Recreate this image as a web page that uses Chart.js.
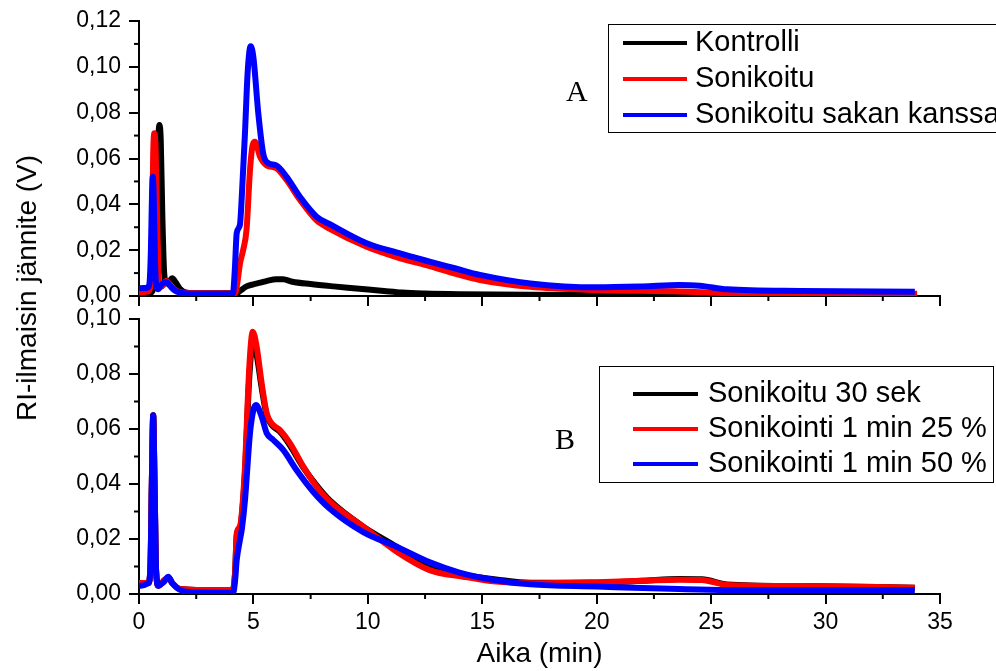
<!DOCTYPE html>
<html>
<head>
<meta charset="utf-8">
<script src="https://cdn.jsdelivr.net/npm/chart.js@4/dist/chart.umd.min.js"></script>
<style>
  body { margin: 0; background: #fff; }
  #wrap { position: relative; width: 996px; height: 671px; overflow: hidden; }
  canvas { position: absolute; left: 0; }
  #top { top: 0; }
  #bottom { top: 308px; }
  #ytitle {
    position: absolute; left: 27px; top: 288px;
    transform: translate(-50%, -50%) rotate(-90deg);
    font: 28px "Liberation Sans", Arial, sans-serif; white-space: nowrap;
  }
</style>
</head>
<body>
<div id="wrap">
  <canvas id="top" width="996" height="308"></canvas>
  <canvas id="bottom" width="996" height="363"></canvas>
  <div id="ytitle">RI-ilmaisin jännite (V)</div>
</div>
<script>
// panel A
const kontrolliX = [0, 0.5, 0.62, 0.7, 0.76, 0.82, 0.89, 0.95, 1.02, 1.1, 1.2, 1.3, 1.45, 1.6, 1.8, 2.1, 2.6, 3.5, 4.25, 4.45, 4.7, 5.0, 5.3, 5.6, 6.0, 6.3, 6.7, 7.5, 8.5, 9.5, 10.7, 11.5, 12.5, 14, 17, 22, 28, 33.9];
const kontrolliY = [0.0013, 0.0014, 0.003, 0.01, 0.035, 0.062, 0.0746, 0.068, 0.035, 0.01, 0.0055, 0.006, 0.0077, 0.006, 0.003, 0.0014, 0.0012, 0.0012, 0.0012, 0.0025, 0.0042, 0.0051, 0.0058, 0.0066, 0.0073, 0.0073, 0.0062, 0.0052, 0.0042, 0.0033, 0.0022, 0.0015, 0.0011, 0.0008, 0.0005, 0.0004, 0.0004, 0.0004];

const sonikoituX = [0, 0.4, 0.5, 0.56, 0.62, 0.67, 0.72, 0.78, 0.84, 0.9, 0.98, 1.08, 1.2, 1.35, 1.6, 2.0, 3.0, 4.2, 4.3, 4.41, 4.55, 4.7, 4.85, 4.97, 5.07, 5.29, 5.58, 6.0, 6.45, 7.03, 7.76, 8.4, 9.95, 11.25, 12.7, 13.8, 14.9, 17.1, 20, 23.6, 25.7, 28.9, 34.0];
const sonikoituY = [0.0015, 0.002, 0.004, 0.02, 0.062, 0.071, 0.066, 0.04, 0.012, 0.005, 0.004, 0.005, 0.0067, 0.005, 0.0025, 0.0014, 0.0012, 0.0012, 0.006, 0.014, 0.020, 0.029, 0.055, 0.066, 0.0673, 0.0608, 0.057, 0.0558, 0.0506, 0.042, 0.033, 0.029, 0.0215, 0.017, 0.013, 0.0098, 0.007, 0.004, 0.0026, 0.002, 0.0013, 0.001, 0.001];

const sakanX = [0, 0.33, 0.45, 0.52, 0.57, 0.6, 0.64, 0.7, 0.76, 0.85, 0.95, 1.1, 1.21, 1.35, 1.55, 1.8, 2.5, 4.1, 4.19, 4.27, 4.41, 4.5, 4.63, 4.75, 4.88, 5.0, 5.21, 5.43, 5.65, 6.0, 6.45, 7.03, 7.76, 8.4, 9.95, 11.25, 12.7, 13.8, 14.9, 17.1, 20, 22, 23.6, 24.5, 25.7, 28.9, 33.9];
const sakanY = [0.0034, 0.0035, 0.005, 0.02, 0.045, 0.052, 0.045, 0.015, 0.004, 0.003, 0.0045, 0.0058, 0.006, 0.0045, 0.0025, 0.0015, 0.001, 0.001, 0.012, 0.0275, 0.031, 0.045, 0.071, 0.098, 0.109, 0.104, 0.08, 0.062, 0.058, 0.057, 0.052, 0.0433, 0.0346, 0.031, 0.023, 0.019, 0.015, 0.0121, 0.0092, 0.0055, 0.0038, 0.0042, 0.0048, 0.0045, 0.0029, 0.0022, 0.0019];

// panel B
const bTimeX = [0, 0.41, 0.5, 0.56, 0.62, 0.68, 0.75, 0.85, 0.95, 1.1, 1.28, 1.45, 1.8, 2.5, 4.1, 4.2, 4.27, 4.41, 4.5, 4.63, 4.82, 4.97, 5.14, 5.36, 5.58, 5.8, 6.16, 6.6, 7.18, 7.76, 8.34, 9.8, 11.26, 12.7, 14.17, 15.6, 17.1, 20, 22, 23.6, 24.6, 25.7, 28.9, 33.9];
const sek30Y = [0.004, 0.004, 0.01, 0.04, 0.065, 0.04, 0.008, 0.003, 0.0035, 0.005, 0.006, 0.004, 0.0018, 0.0015, 0.0015, 0.008, 0.021, 0.024, 0.029, 0.044, 0.079, 0.091, 0.087, 0.075, 0.065, 0.0615, 0.059, 0.054, 0.046, 0.0395, 0.034, 0.0245, 0.0172, 0.0094, 0.0069, 0.0053, 0.0041, 0.0041, 0.0048, 0.0055, 0.0054, 0.0035, 0.0029, 0.0023];
const min25Y = [0.004, 0.004, 0.01, 0.04, 0.065, 0.04, 0.008, 0.003, 0.0035, 0.005, 0.006, 0.004, 0.0018, 0.0015, 0.0015, 0.008, 0.022, 0.0245, 0.03, 0.046, 0.0826, 0.0954, 0.09, 0.0766, 0.0657, 0.062, 0.0596, 0.0548, 0.0463, 0.039, 0.0336, 0.0245, 0.0154, 0.0087, 0.0063, 0.0045, 0.0039, 0.0043, 0.0048, 0.0052, 0.0051, 0.0033, 0.0029, 0.0023];
const min50X = [0, 0.41, 0.5, 0.56, 0.62, 0.68, 0.75, 0.85, 0.95, 1.1, 1.28, 1.45, 1.79, 2.5, 4.12, 4.2, 4.27, 4.41, 4.5, 4.63, 4.85, 5.0, 5.11, 5.36, 5.58, 5.87, 6.3, 6.89, 7.61, 8.34, 9.8, 11.26, 12.71, 14.0, 15.6, 17.1, 20, 23.6, 25.7, 28.9, 33.9];
const min50Y = [0.0029, 0.0039, 0.01, 0.04, 0.065, 0.04, 0.008, 0.003, 0.0035, 0.0045, 0.0063, 0.004, 0.0015, 0.0006, 0.0005, 0.005, 0.0124, 0.0196, 0.024, 0.034, 0.0585, 0.067, 0.0687, 0.0645, 0.0585, 0.056, 0.0524, 0.045, 0.0372, 0.031, 0.0225, 0.0172, 0.0115, 0.0078, 0.005, 0.0035, 0.0027, 0.0018, 0.0015, 0.0015, 0.0015];

const xTicks = [0, 5, 10, 15, 20, 25, 30, 35];
const namesA = ['Kontrolli', 'Sonikoitu', 'Sonikoitu sakan kanssa'];
const namesB = ['Sonikoitu 30 sek', 'Sonikointi 1 min 25 %', 'Sonikointi 1 min 50 %'];
const colors = ['#000000', '#ff0000', '#0000ff'];

const FONT = '"Liberation Sans", Arial, sans-serif';

function pts(xs, ys) {
    return xs.map((x, i) => ({x: x, y: ys[i]}));
}

function makeSet(label, xs, ys, i) {
    return {
        label: label,
        data: pts(xs, ys),
        borderColor: colors[i],
        borderWidth: 6,
        pointRadius: 0,
        cubicInterpolationMode: 'monotone',
        order: 3 - i
    };
}

// minor ticks halfway between the scale's own ticks
const minorTicks = {
    id: 'minorTicks',
    afterDraw(chart) {
        const ctx = chart.ctx;
        ctx.save();
        ctx.strokeStyle = '#000';
        ctx.lineWidth = 2;
        ['x', 'y'].forEach(id => {
            const s = chart.scales[id];
            const t = s.ticks;
            for (let i = 0; i < t.length - 1; i++) {
                const p = s.getPixelForValue((t[i].value + t[i + 1].value) / 2);
                ctx.beginPath();
                if (s.isHorizontal()) {
                    ctx.moveTo(p, s.top);
                    ctx.lineTo(p, s.top + 5);
                } else {
                    ctx.moveTo(s.right, p);
                    ctx.lineTo(s.right - 5, p);
                }
                ctx.stroke();
            }
        });
        ctx.restore();
    }
};

// boxed legend + panel letter
const boxLegend = {
    id: 'boxLegend',
    afterDraw(chart, args, o) {
        const ctx = chart.ctx;
        ctx.save();
        ctx.strokeStyle = '#000';
        ctx.lineWidth = 1;
        ctx.strokeRect(o.x + 0.5, o.y + 0.5, o.w, o.h);
        ctx.font = '29px ' + FONT;
        ctx.textBaseline = 'middle';
        chart.data.datasets.forEach((ds, i) => {
            const y = o.y + o.first + i * o.gap;
            ctx.strokeStyle = ds.borderColor;
            ctx.lineWidth = 4;
            ctx.beginPath();
            ctx.moveTo(o.lineX0, y);
            ctx.lineTo(o.lineX1, y);
            ctx.stroke();
            ctx.fillStyle = '#000';
            ctx.fillText(ds.label, o.textX, y);
        });
        ctx.font = '30px "Liberation Serif", "Times New Roman", serif';
        ctx.textBaseline = 'alphabetic';
        ctx.fillText(o.letter, o.letterX, o.letterY);
        ctx.restore();
    }
};

function yLabel(v) {
    return v.toFixed(2).replace('.', ',');
}

function panel(canvas, sets, opts) {
    return new Chart(canvas, {
        type: 'line',
        data: {datasets: sets},
        options: {
            responsive: false,
            animation: false,
            events: [],
            layout: {padding: {left: 0, right: 56, top: opts.padTop, bottom: 0}},
            plugins: {
                legend: {display: false},
                tooltip: {enabled: false},
                boxLegend: opts.legend
            },
            scales: {
                x: {
                    type: 'linear',
                    min: 0,
                    max: 35,
                    afterBuildTicks: s => { s.ticks = xTicks.map(v => ({value: v})); },
                    border: {display: true, color: '#000', width: 2},
                    grid: {drawOnChartArea: false, drawTicks: true, tickLength: 10, color: '#000', lineWidth: 2},
                    ticks: {
                        display: opts.xLabels,
                        color: '#000',
                        padding: 5,
                        maxRotation: 0,
                        font: {family: FONT, size: 23}
                    },
                    title: {
                        display: opts.xLabels,
                        text: 'Aika (min)',
                        color: '#000',
                        padding: {top: 0, bottom: 0},
                        font: {family: FONT, size: 28}
                    },
                    afterFit: s => { s.height = opts.xHeight; }
                },
                y: {
                    min: 0,
                    max: opts.yMax,
                    border: {display: true, color: '#000', width: 2},
                    grid: {drawOnChartArea: false, drawTicks: true, tickLength: 10, color: '#000', lineWidth: 2},
                    ticks: {
                        stepSize: 0.02,
                        color: '#000',
                        padding: 8,
                        callback: yLabel,
                        font: {family: FONT, size: 23}
                    },
                    afterFit: s => {
                        s.width = 139;
                        s.paddingTop = 0;
                        s.paddingBottom = 0;
                    }
                }
            }
        },
        plugins: [minorTicks, boxLegend]
    });
}

panel(document.getElementById('top'), [
    makeSet(namesA[0], kontrolliX, kontrolliY, 0),
    makeSet(namesA[1], sonikoituX, sonikoituY, 1),
    makeSet(namesA[2], sakanX, sakanY, 2)
], {
    padTop: 21, xHeight: 12, yMax: 0.12, xLabels: false,
    legend: {x: 608, y: 24, w: 430, h: 108, first: 19, gap: 36, lineX0: 623, lineX1: 687, textX: 695,
             letter: 'A', letterX: 566, letterY: 101}
});

panel(document.getElementById('bottom'), [
    makeSet(namesB[0], bTimeX, sek30Y, 0),
    makeSet(namesB[1], bTimeX, min25Y, 1),
    makeSet(namesB[2], min50X, min50Y, 2)
], {
    padTop: 11, xHeight: 77, yMax: 0.10, xLabels: true,
    legend: {x: 599, y: 58, w: 394, h: 116, first: 28, gap: 35, lineX0: 633, lineX1: 698, textX: 708,
             letter: 'B', letterX: 555, letterY: 141}
});
</script>
</body>
</html>
